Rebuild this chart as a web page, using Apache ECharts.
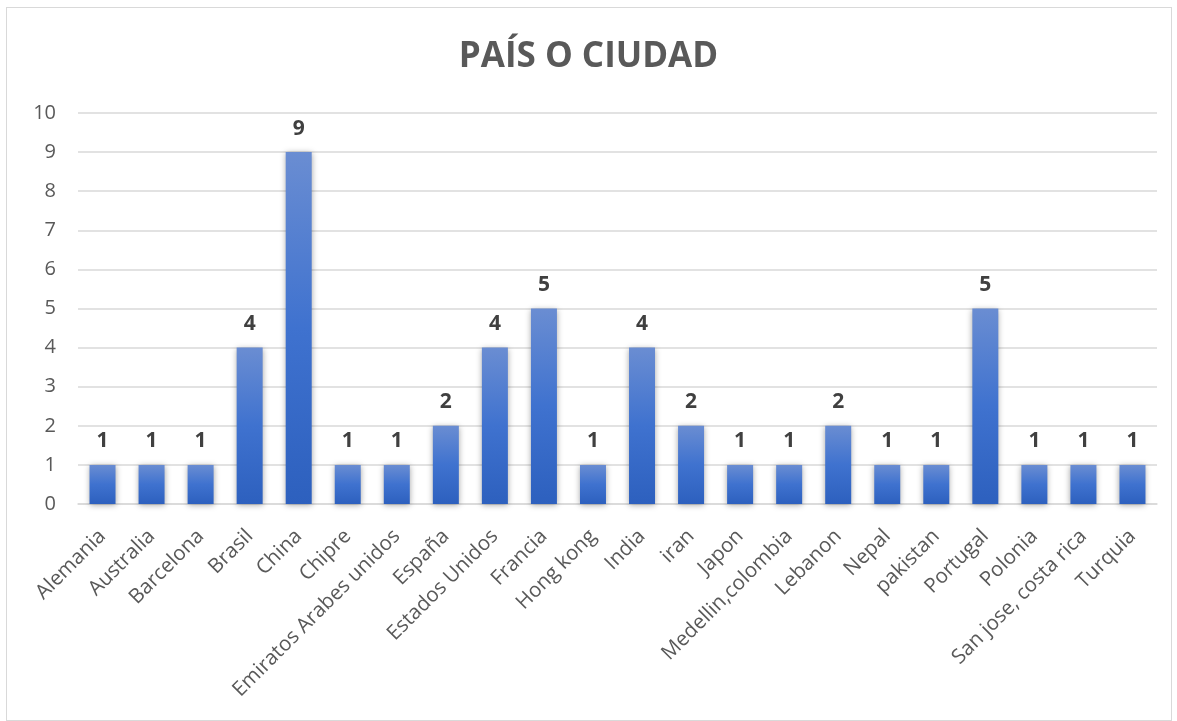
<!DOCTYPE html>
<html><head><meta charset="utf-8">
<script src="https://cdn.jsdelivr.net/npm/echarts@6/dist/echarts.min.js"></script>
<style>
html,body{margin:0;padding:0;background:#fff;}
#frame{position:absolute;left:6px;top:7px;width:1166px;height:714px;border:1px solid #d9d9d9;box-sizing:border-box;}
#c{position:absolute;left:0;top:0;width:1177px;height:721px;}
</style></head>
<body><div id="frame"></div><div id="c"></div>
<script>
const titleText = 'PAÍS O CIUDAD';
const categories = ['Alemania','Australia','Barcelona','Brasil','China','Chipre','Emiratos Arabes unidos','España','Estados Unidos','Francia','Hong kong','India','iran','Japon','Medellin,colombia','Lebanon','Nepal','pakistan','Portugal','Polonia','San jose, costa rica','Turquia'];
const values = [1,1,1,4,9,1,1,2,4,5,1,4,2,1,1,2,1,1,5,1,1,1];
const yTicks = {min:0,max:10,interval:1};

const chart = echarts.init(document.getElementById('c'));
const font = '"Open Sans", "Noto Sans", sans-serif';
chart.setOption({
  backgroundColor:'transparent',
  title:{text:titleText,left:'center',top:35,textStyle:{fontFamily:font,fontSize:35,fontWeight:'bold',color:'#595959'}},
  grid:{left:78,right:20,top:113,bottom:217},
  xAxis:{type:'category',data:categories,
    axisLine:{lineStyle:{color:'#d9d9d9',width:1.5}},axisTick:{show:false},
    axisLabel:{interval:0,rotate:45,fontFamily:font,fontSize:20.5,color:'#595959',margin:29}},
  yAxis:{type:'value',min:yTicks.min,max:yTicks.max,interval:yTicks.interval,
    axisLine:{show:false},axisTick:{show:false},
    splitLine:{lineStyle:{color:'#d9d9d9',width:1.5}},
    axisLabel:{fontFamily:font,fontSize:20,color:'#595959',margin:22}},
  series:[{type:'bar',data:values,barWidth:26,
    itemStyle:{color:new echarts.graphic.LinearGradient(0,0,0,1,[{offset:0,color:'#6a8dd2'},{offset:0.5,color:'#3f72cf'},{offset:1,color:'#2d60be'}]),
      shadowColor:'rgba(0,0,0,0.35)',shadowBlur:6,shadowOffsetX:0,shadowOffsetY:1},
    label:{show:true,position:'top',distance:13,fontFamily:font,fontSize:21,fontWeight:'bold',color:'#404040'}}]
});
</script></body></html>
